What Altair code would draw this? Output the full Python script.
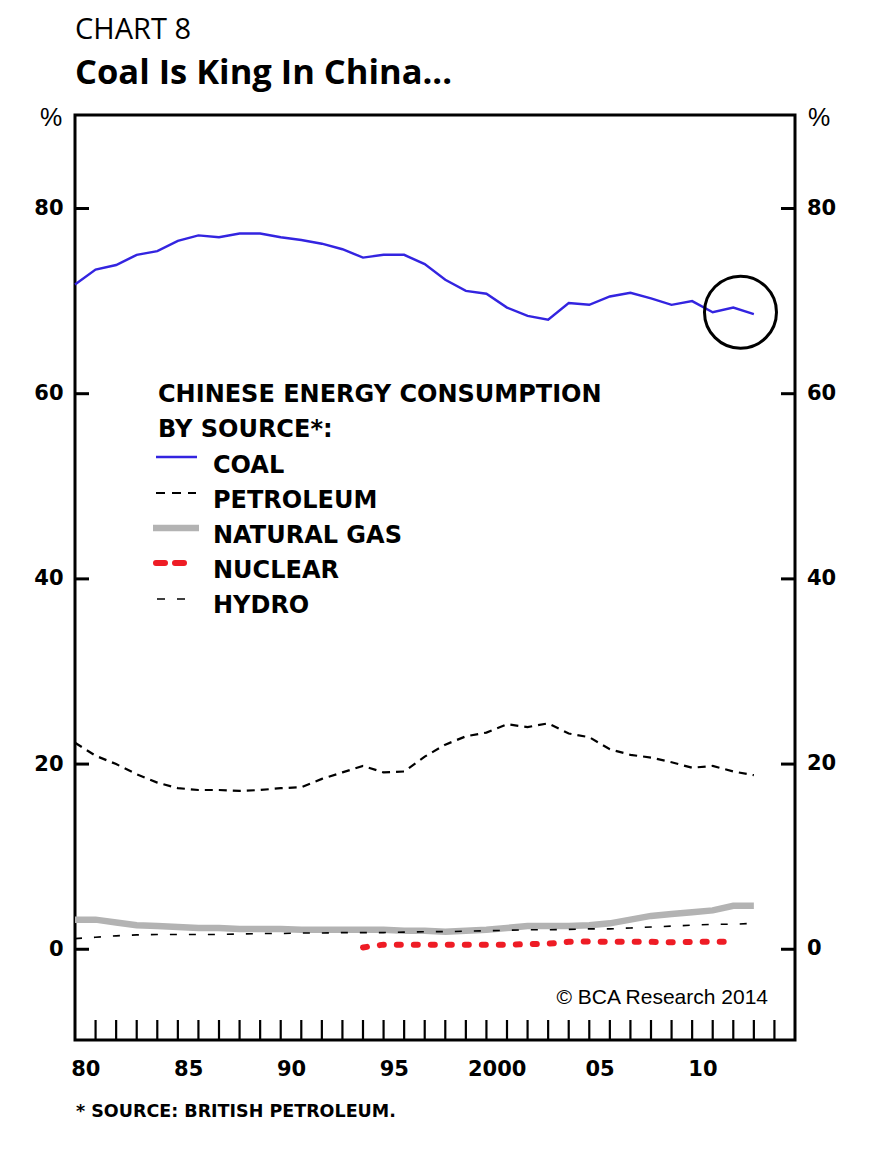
import altair as alt
import pandas as pd

# ---------------- data ----------------
years = list(range(1980, 2014))
coal = [71.8, 73.4, 73.9, 75.0, 75.4, 76.5, 77.1, 76.9, 77.3, 77.3, 76.9, 76.6, 76.2, 75.6,
        74.7, 75.0, 75.0, 74.0, 72.3, 71.1, 70.8, 69.3, 68.4, 68.0, 69.8, 69.6, 70.5, 70.9,
        70.3, 69.6, 70.0, 68.8, 69.3, 68.6]
petroleum = [22.3, 20.9, 20.0, 18.9, 18.0, 17.4, 17.2, 17.2, 17.1, 17.2, 17.4, 17.5, 18.4, 19.1,
             19.8, 19.1, 19.2, 20.8, 22.1, 23.0, 23.4, 24.3, 24.0, 24.4, 23.3, 22.9, 21.6, 21.0,
             20.7, 20.2, 19.6, 19.8, 19.2, 18.8]
natural_gas = [3.2, 3.2, 2.9, 2.6, 2.5, 2.4, 2.3, 2.3, 2.2, 2.2, 2.2, 2.1, 2.1, 2.1, 2.1, 2.1,
               2.0, 2.0, 1.9, 2.0, 2.1, 2.3, 2.5, 2.5, 2.5, 2.6, 2.8, 3.2, 3.6, 3.8, 4.0, 4.2,
               4.7, 4.7]
hydro = [1.15, 1.3, 1.45, 1.55, 1.6, 1.6, 1.6, 1.6, 1.65, 1.7, 1.7, 1.75, 1.75, 1.8, 1.8, 1.8,
         1.85, 1.9, 1.9, 1.95, 2.0, 2.05, 2.1, 2.1, 2.15, 2.2, 2.2, 2.3, 2.4, 2.5, 2.6, 2.7,
         2.7, 2.8]
nuclear_years = list(range(1994, 2013))
nuclear = [0.2, 0.5, 0.5, 0.5, 0.5, 0.5, 0.5, 0.5, 0.55, 0.6, 0.8, 0.85, 0.8, 0.8, 0.8, 0.75,
           0.8, 0.8, 0.8]

y_tick_values = [0, 20, 40, 60, 80]
x_minor_ticks = list(range(1981, 2015))
x_label_years = [1980, 1985, 1990, 1995, 2000, 2005, 2010]
x_tick_labels = ["80", "85", "90", "95", "2000", "05", "10"]

circle_year = [2012.35]
circle_value = [68.8]

legend_names = ["COAL", "PETROLEUM", "NATURAL GAS", "NUCLEAR", "HYDRO"]

# ---------------- layout ----------------
W, H = 720, 925
BOLD = "DejaVu Sans"

xscale = alt.Scale(domain=[1980, 2015], nice=False, zero=False)
yscale = alt.Scale(domain=[-9.8, 90.1], nice=False, zero=False)

label_positions = [y + 0.5 for y in x_label_years]
expr = "''"
for pos, lab in reversed(list(zip(label_positions, x_tick_labels))):
    expr = f"abs(datum.value - {pos}) < 0.01 ? '{lab}' : ({expr})"

x_axis = alt.Axis(values=label_positions, labelExpr=expr, ticks=False, domain=False,
                  grid=False, title=None, labelFont=BOLD, labelFontWeight="bold",
                  labelFontSize=21, labelColor="black", labelPadding=18)
y_axis = alt.Axis(values=y_tick_values, ticks=False, domain=False, grid=False, title=None,
                  labelFont=BOLD, labelFontWeight="bold", labelFontSize=21,
                  labelColor="black", labelPadding=12)

X = lambda f: alt.X(f, type="quantitative", scale=xscale, axis=x_axis)
Y = lambda f: alt.Y(f, type="quantitative", scale=yscale, axis=y_axis)

df = pd.DataFrame({"year": years, "coal": coal, "petroleum": petroleum,
                   "gas": natural_gas, "hydro": hydro})
df_nuc = pd.DataFrame({"year": nuclear_years, "nuclear": nuclear})

gas_line = alt.Chart(df).mark_line(color="#b3b3b3", strokeWidth=6.5).encode(x=X("year"), y=Y("gas"))
hydro_line = alt.Chart(df).mark_line(color="black", strokeWidth=1.6, strokeDash=[7, 12]).encode(
    x=X("year"), y=Y("hydro"))
nuc_line = alt.Chart(df_nuc).mark_line(color="#ee1c25", strokeWidth=6, strokeDash=[4, 13],
                                       strokeCap="round").encode(x=X("year"), y=Y("nuclear"))
pet_line = alt.Chart(df).mark_line(color="black", strokeWidth=2.2, strokeDash=[8, 6]).encode(
    x=X("year"), y=Y("petroleum"))
coal_line = alt.Chart(df).mark_line(color="#3324e0", strokeWidth=2.4).encode(x=X("year"), y=Y("coal"))

circle = alt.Chart(pd.DataFrame({"year": circle_year, "v": circle_value})).mark_point(
    shape="circle", size=5184, filled=False, color="black", strokeWidth=3, opacity=1).encode(
    x=X("year"), y=Y("v"))

# inner ticks
ydf = pd.DataFrame({"v": y_tick_values, "lab": [str(v) for v in y_tick_values]})
left_ticks = alt.Chart(ydf).mark_rule(color="black", strokeWidth=3).encode(
    y=Y("v"), x=alt.value(0), x2=alt.value(14))
right_ticks = alt.Chart(ydf).mark_rule(color="black", strokeWidth=3).encode(
    y=Y("v"), x=alt.value(W - 14), x2=alt.value(W))
right_labels = alt.Chart(ydf).mark_text(align="left", baseline="middle", font=BOLD,
                                        fontWeight="bold", fontSize=21, color="black").encode(
    y=Y("v"), x=alt.value(W + 12), text="lab:N")
bottom_ticks = alt.Chart(pd.DataFrame({"year": x_minor_ticks})).mark_rule(
    color="black", strokeWidth=2.2).encode(x=X("year"), y=alt.value(H - 20), y2=alt.value(H))


def text_layer(txt, x, y, size, font=BOLD, weight="bold", align="left", baseline="alphabetic"):
    return alt.Chart(pd.DataFrame({"t": [txt]})).mark_text(
        align=align, baseline=baseline, font=font, fontWeight=weight, fontSize=size,
        color="black").encode(x=alt.value(x), y=alt.value(y), text="t:N")


def sym_layer(x1, x2, y, color, width, dash=None, cap="butt"):
    kw = dict(color=color, strokeWidth=width, strokeCap=cap)
    if dash:
        kw["strokeDash"] = dash
    return alt.Chart(pd.DataFrame({"k": [0]})).mark_rule(**kw).encode(
        x=alt.value(x1), x2=alt.value(x2), y=alt.value(y))


annotations = [
    text_layer("CHART 8", 0, -76, 29, font="Open Sans", weight="normal"),
    text_layer("Coal Is King In China...", 0, -31, 34.5, font="Open Sans", weight="bold"),
    text_layer("%", -24, 3, 25, font="Liberation Sans", weight="normal", align="center",
               baseline="middle"),
    text_layer("%", W + 24, 3, 25, font="Liberation Sans", weight="normal", align="center",
               baseline="middle"),
    text_layer("CHINESE ENERGY CONSUMPTION", 83, 287, 24),
    text_layer("BY SOURCE*:", 83, 322, 24),
    text_layer("© BCA Research 2014", 693, 889, 21, font="Liberation Sans", weight="normal",
               align="right"),
    text_layer("* SOURCE: BRITISH PETROLEUM.", 1, 1002, 17.5),
]

sym_y = [342, 378, 413, 448, 484]
txt_y = [358, 393, 428, 463, 498]
symbols = [
    sym_layer(81, 122, sym_y[0], "#3324e0", 2.4),
    sym_layer(81, 121, sym_y[1], "black", 2.2, [9, 7]),
    sym_layer(78, 124, sym_y[2], "#b3b3b3", 6.5),
    sym_layer(81, 109, sym_y[3], "#ee1c25", 6, [9, 10], "round"),
    sym_layer(82, 110, sym_y[4], "black", 1.6, [8, 12]),
]
legend_texts = [text_layer(n, 138, ty, 24) for n, ty in zip(legend_names, txt_y)]

chart = alt.layer(
    gas_line, hydro_line, nuc_line, pet_line, coal_line, circle,
    left_ticks, right_ticks, right_labels, bottom_ticks,
    *symbols, *legend_texts, *annotations
).properties(
    width=W, height=H,
    autosize=alt.AutoSizeParams(type="none"),
    padding={"left": 67, "top": 107, "right": 90, "bottom": 101},
    background="white",
).configure_view(stroke="black", strokeWidth=3)

chart.save("out.html", embed_options={"renderer": "svg", "actions": False})
